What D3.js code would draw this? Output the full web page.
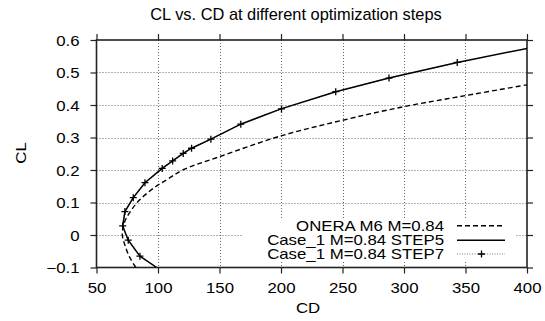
<!DOCTYPE html>
<html>
<head>
<meta charset="utf-8">
<script src="https://cdn.jsdelivr.net/npm/d3@7"></script>
<style>
  body { margin: 0; background: #fff; }
  text { font-family: "Liberation Sans", Arial, sans-serif; fill: #000; }
</style>
</head>
<body>
<svg width="545" height="321"></svg>
<script>
// drag polar data (CD in counts, CL)
const cdOnera = [82, 76.5, 73, 71, 72, 74, 78, 83, 90, 98.5, 108, 120, 150, 200, 250, 300, 350, 400];
const clOnera = [-0.1, -0.065, -0.03, 0, 0.03, 0.05, 0.075, 0.1, 0.125, 0.15, 0.172, 0.2, 0.241, 0.305, 0.353, 0.395, 0.429, 0.462];

const cdStep5 = [99, 85.3, 75.8, 71.3, 73.1, 79.9, 89.4, 103.4, 111.9, 120.5, 127.3, 143, 167.3, 200, 244.5, 287.8, 343.3, 400];
const clStep5 = [-0.1, -0.065, -0.016, 0.028, 0.072, 0.115, 0.161, 0.205, 0.228, 0.251, 0.267, 0.295, 0.341, 0.388, 0.441, 0.483, 0.531, 0.574];

const cdStep7 = [85.3, 75.8, 71.3, 73.1, 79.9, 89.4, 103.4, 111.9, 120.5, 127.3, 143, 167.3, 200.4, 244.5, 287.8, 343.3];
const clStep7 = [-0.065, -0.016, 0.028, 0.072, 0.115, 0.161, 0.205, 0.228, 0.251, 0.267, 0.295, 0.341, 0.388, 0.441, 0.483, 0.531];

const xTicks = [50, 100, 150, 200, 250, 300, 350, 400];
const yTicks = [-0.1, 0, 0.1, 0.2, 0.3, 0.4, 0.5, 0.6];
const seriesNames = ['ONERA M6 M=0.84', 'Case_1 M=0.84 STEP5', 'Case_1 M=0.84 STEP7'];

const plotLeft = 96.5, plotRight = 527, plotTop = 40, plotBottom = 267.5;
const sx = 1.2; // glyphs in the reference are wider than Arial

const x = d3.scaleLinear().domain([50, 400]).range([plotLeft, plotRight]);
const y = d3.scaleLinear().domain([-0.1, 0.6]).range([plotBottom, plotTop]);

const svg = d3.select('svg');

svg.append('defs').append('clipPath').attr('id', 'plot')
    .append('rect')
    .attr('x', plotLeft).attr('y', plotTop)
    .attr('width', plotRight - plotLeft).attr('height', plotBottom - plotTop);

// grid
let grid = svg.append('g')
    .attr('stroke', '#666')
    .attr('stroke-width', 1)
    .attr('stroke-dasharray', '1,2');

grid.selectAll('.gx')
    .data(xTicks.slice(1, -1))
    .enter().append('line')
    .attr('x1', d => Math.round(x(d)) + 0.5).attr('x2', d => Math.round(x(d)) + 0.5)
    .attr('y1', plotTop).attr('y2', plotBottom);

grid.selectAll('.gy')
    .data(yTicks.slice(1, -1))
    .enter().append('line')
    .attr('y1', d => Math.round(y(d)) + 0.5).attr('y2', d => Math.round(y(d)) + 0.5)
    .attr('x1', plotLeft).attr('x2', plotRight);

// key background hides the grid behind it
svg.append('rect')
    .attr('x', 243).attr('y', 218)
    .attr('width', 272).attr('height', 44)
    .attr('fill', '#fff');

// axes, ticks pointing out on all four sides
function styleAxis(g) {
    g.select('.domain').remove();
    g.selectAll('.tick line').attr('stroke', '#222').attr('stroke-width', 1.2);
    g.selectAll('text').attr('font-size', 14);
}

svg.append('g')
    .attr('transform', `translate(0,${plotBottom})`)
    .call(d3.axisBottom(x).tickValues(xTicks).tickSize(6).tickFormat(d3.format('d')))
    .call(styleAxis)
    .call(g => g.selectAll('text')
        .attr('y', 0).attr('dy', 0)
        .attr('transform', `translate(0,25.5) scale(${sx},1)`));

svg.append('g')
    .attr('transform', `translate(${plotLeft},0)`)
    .call(d3.axisLeft(y).tickValues(yTicks).tickSize(6).tickFormat(d => d === 0 ? '0' : d3.format('.1f')(d)))
    .call(styleAxis)
    .call(g => g.selectAll('text')
        .attr('x', 0).attr('dy', '0.36em')
        .attr('transform', `translate(-17,0) scale(${sx},1)`));

svg.append('g')
    .attr('transform', `translate(0,${plotTop})`)
    .call(d3.axisTop(x).tickValues(xTicks).tickSize(6).tickFormat(''))
    .call(styleAxis);

svg.append('g')
    .attr('transform', `translate(${plotRight},0)`)
    .call(d3.axisRight(y).tickValues(yTicks).tickSize(6).tickFormat(''))
    .call(styleAxis);

svg.append('rect')
    .attr('x', plotLeft).attr('y', plotTop)
    .attr('width', plotRight - plotLeft).attr('height', plotBottom - plotTop)
    .attr('fill', 'none')
    .attr('stroke', '#222')
    .attr('stroke-width', 1.6);

// series
let plot = svg.append('g').attr('clip-path', 'url(#plot)');

const onera = d3.zip(cdOnera, clOnera);
const step5 = d3.zip(cdStep5, clStep5);
const step7 = d3.zip(cdStep7, clStep7);

let smooth = d3.line().x(d => x(d[0])).y(d => y(d[1])).curve(d3.curveCatmullRom);
let straight = d3.line().x(d => x(d[0])).y(d => y(d[1]));

plot.append('path')
    .attr('d', straight(step7))
    .attr('fill', 'none')
    .attr('stroke', '#777')
    .attr('stroke-width', 1.2)
    .attr('stroke-dasharray', '1,1.5');

plot.append('path')
    .attr('d', smooth(onera))
    .attr('fill', 'none')
    .attr('stroke', '#000')
    .attr('stroke-width', 1.4)
    .attr('stroke-dasharray', '5,3');

plot.append('path')
    .attr('d', straight(step5))
    .attr('fill', 'none')
    .attr('stroke', '#000')
    .attr('stroke-width', 1.5);

function cross(sel, px, py) {
    sel.append('path')
        .attr('d', `M${px - 3.5},${py}H${px + 3.5}M${px},${py - 3.5}V${py + 3.5}`)
        .attr('stroke', '#000')
        .attr('stroke-width', 1.3);
}

let marks = plot.append('g');
step7.forEach(d => cross(marks, x(d[0]), y(d[1])));

// key
let key = svg.append('g');
const keyRows = [230.7, 245, 259];
key.selectAll('text')
    .data(seriesNames)
    .enter().append('text')
    .attr('text-anchor', 'end')
    .attr('font-size', 14)
    .attr('transform', (d, i) => `translate(444,${keyRows[i]}) scale(${sx},1)`)
    .text(d => d);

key.append('line')
    .attr('x1', 457).attr('x2', 505).attr('y1', 225.7).attr('y2', 225.7)
    .attr('stroke', '#000').attr('stroke-width', 1.4).attr('stroke-dasharray', '5,3');
key.append('line')
    .attr('x1', 457).attr('x2', 505).attr('y1', 240.3).attr('y2', 240.3)
    .attr('stroke', '#000').attr('stroke-width', 1.5);
key.append('line')
    .attr('x1', 457).attr('x2', 505).attr('y1', 254).attr('y2', 254)
    .attr('stroke', '#777').attr('stroke-width', 1.2).attr('stroke-dasharray', '1,1.5');
cross(key, 481.5, 254);

// titles
svg.append('text')
    .attr('text-anchor', 'middle')
    .attr('font-size', 16)
    .attr('transform', 'translate(296,20) scale(1.025,1)')
    .text('CL vs. CD at different optimization steps');

svg.append('text')
    .attr('text-anchor', 'middle')
    .attr('font-size', 14)
    .attr('transform', `translate(308,313) scale(${sx},1)`)
    .text('CD');

svg.append('text')
    .attr('text-anchor', 'middle')
    .attr('font-size', 14)
    .attr('transform', `translate(25.5,153) rotate(-90) scale(${sx},1)`)
    .text('CL');
</script>
</body>
</html>
